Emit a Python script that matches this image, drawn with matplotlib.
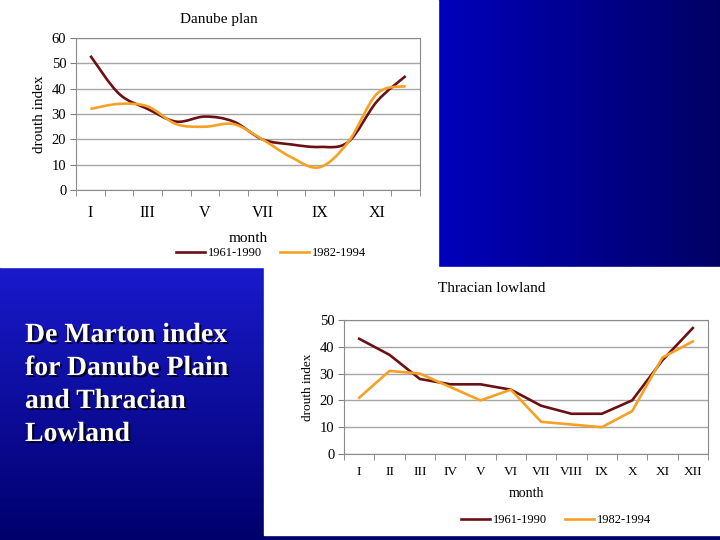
import numpy as np
import matplotlib
matplotlib.use("Agg")
import matplotlib.pyplot as plt
import matplotlib.patheffects as pe
from matplotlib.path import Path
from matplotlib.patches import PathPatch, Rectangle
from matplotlib.lines import Line2D

plt.rcParams['font.family'] = ['Liberation Serif', 'DejaVu Serif']

# data
months = ['I', 'II', 'III', 'IV', 'V', 'VI', 'VII', 'VIII', 'IX', 'X', 'XI', 'XII']
danube_6190 = [53, 38, 32, 27, 29, 27, 20, 18, 17, 19, 35, 45]
danube_8294 = [32, 34, 33, 26, 25, 26, 20, 13, 9, 19, 38, 41]
thracian_6190 = [43, 37, 28, 26, 26, 24, 18, 15, 15, 20, 35, 47]
thracian_8294 = [21, 31, 30, 25, 20, 24, 12, 11, 10, 16, 36, 42]
series_labels = ['1961-1990', '1982-1994']
slide_lines = ['De Marton index', 'for Danube Plain', 'and Thracian', 'Lowland']

c_dark = '#6b1114'
c_orange = '#f5a124'
grid_c = '#a6a6a6'


def smooth_path(x, y):
    # Bezier path through the points, like a spreadsheet "smoothed line"
    p = np.column_stack([x, y]).astype(float)
    ext = np.vstack([p[0], p, p[-1]])
    verts = [p[0]]
    codes = [Path.MOVETO]
    for i in range(len(p) - 1):
        c1 = ext[i + 1] + (ext[i + 2] - ext[i]) / 6.0
        c2 = ext[i + 2] - (ext[i + 3] - ext[i + 1]) / 6.0
        verts += [c1, c2, ext[i + 2]]
        codes += [Path.CURVE4] * 3
    return Path(verts, codes)


def gradient(c0, c1, n=120, vertical=False):
    t = np.linspace(0, 1, n)
    g = np.array(c0)[None, :] * (1 - t[:, None]) + np.array(c1)[None, :] * t[:, None]
    g = g / 255.0
    return g[:, None, :] if vertical else g[None, :, :]


fig = plt.figure(figsize=(7.2, 5.4), dpi=100, facecolor='#00006c')

# slide background (pixel coords, y down)
bg = fig.add_axes([0, 0, 1, 1], zorder=-10)
bg.set_facecolor('#00006c')
# left block: vertical gradient, upper right block: horizontal gradient
bg.imshow(gradient((26, 26, 204), (0, 0, 108), vertical=True), extent=[0, 264, 540, 267],
          origin='upper', aspect='auto')
bg.imshow(gradient((0, 0, 188), (0, 0, 100)), extent=[438, 720, 267, 0],
          origin='upper', aspect='auto')
bg.set_xlim(0, 720)
bg.set_ylim(540, 0)
bg.axis('off')
bg.add_patch(Rectangle((0, 0), 438, 267, color='white'))
bg.add_patch(Rectangle((264, 267), 456, 268, color='white'))

shadow = [pe.withSimplePatchShadow(offset=(1.5, -1.5), shadow_rgbFace='black', alpha=0.8)]
for i, line in enumerate(slide_lines):
    bg.text(25, 342 + 33 * i, line, color='white', fontsize=20, fontweight='bold',
            va='baseline', ha='left', path_effects=shadow)

# panel titles, centred on the white panels
bg.text(219, 20, 'Danube plan', fontsize=11, ha='center', va='center')
bg.text(492, 288, 'Thracian lowland', fontsize=11, ha='center', va='center')

xs = np.arange(len(months))


def style_axes(ax, ymax, step, label_step, ylab_size, xpad, xsize):
    ax.set_xlim(-0.5, len(months) - 0.5)
    ax.set_ylim(0, ymax)
    ax.set_yticks(np.arange(0, ymax + 1, step))
    ax.yaxis.grid(True, color=grid_c, linewidth=1)
    ax.set_axisbelow(True)
    ax.set_xticks(xs[::label_step])
    ax.set_xticklabels(months[::label_step])
    ax.tick_params(axis='x', length=0, pad=xpad, labelsize=xsize)
    ax.set_xticks(np.arange(-0.5, len(months)), minor=True)
    ax.tick_params(axis='x', which='minor', length=4, direction='out', color='#808080')
    ax.tick_params(axis='y', length=4, direction='out', color='#808080', labelsize=10.5, pad=3)
    for s in ax.spines.values():
        s.set_color('#8c8c8c')
    ax.set_ylabel('drouth index', fontsize=ylab_size, labelpad=4)


h = [Line2D([], [], color=c_dark, lw=1.9), Line2D([], [], color=c_orange, lw=1.9)]
leg_kw = dict(ncol=2, frameon=False, fontsize=9, handlelength=2.3,
              handletextpad=0.2, columnspacing=1.5, loc='center')

# Danube plain (smoothed lines)
ax1 = fig.add_axes([0.1056, 0.6481, 0.4777, 0.2815])
style_axes(ax1, 60, 10, 2, 11, 11, 11.5)
for vals, col in [(danube_6190, c_dark), (danube_8294, c_orange)]:
    ax1.add_patch(PathPatch(smooth_path(xs, vals), facecolor='none', edgecolor=col, linewidth=1.9))
ax1.set_xlabel('month', fontsize=11, labelpad=8)
fig.legend(h, series_labels, bbox_to_anchor=(271 / 720, 1 - 253 / 540), **leg_kw)

# Thracian lowland (straight lines)
ax2 = fig.add_axes([0.4778, 0.1593, 0.5055, 0.2481])
style_axes(ax2, 50, 10, 1, 9.5, 9, 9.5)
ax2.plot(xs, thracian_6190, color=c_dark, lw=1.9)
ax2.plot(xs, thracian_8294, color=c_orange, lw=1.9)
ax2.set_xlabel('month', fontsize=10, labelpad=6)
fig.legend(h, series_labels, bbox_to_anchor=(556 / 720, 1 - 520 / 540), **leg_kw)

fig.savefig('out.png', dpi=100, facecolor=fig.get_facecolor())
